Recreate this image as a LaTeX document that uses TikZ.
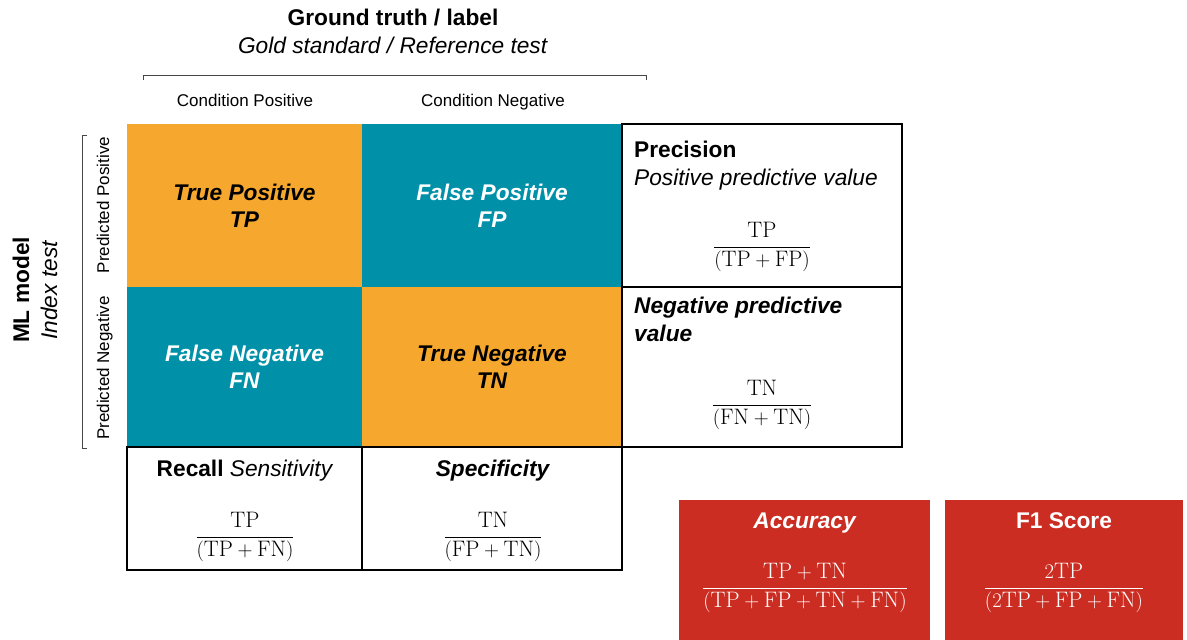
\documentclass[tikz,border=0pt]{standalone}
\usepackage{fontspec}
\setsansfont{Liberation Sans}
\usetikzlibrary{positioning}
\definecolor{cmorange}{RGB}{246,168,46}
\definecolor{cmteal}{RGB}{0,145,169}
\definecolor{cmred}{RGB}{204,45,34}
\definecolor{bracegray}{RGB}{70,70,70}
\tikzset{
  cell/.style = {minimum width=235pt, minimum height=163pt, inner sep=0pt,
    align=center, font=\sffamily\bfseries\itshape\fontsize{22.7}{27}\selectfont},
  metricbox/.style = {draw=black, line width=1.8pt, inner sep=0pt},
  scorebox/.style = {fill=cmred, inner sep=0pt, minimum height=140pt},
  heading/.style = {inner sep=0pt, align=left,
    font=\sffamily\fontsize{22.7}{28}\selectfont},
  formula/.style = {inner sep=0pt, font=\fontsize{22.4}{26}\selectfont},
  small/.style = {inner sep=0pt, anchor=base, font=\sffamily\fontsize{17}{20}\selectfont},
  brace/.style = {draw=bracegray, line width=0.8pt},
}

\begin{document}
\begin{tikzpicture}[x=1pt,y=-1pt]
\useasboundingbox (0,0) rectangle (1187,640);
% axis titles
\node [heading, align=center] (truth) at (393,31)
  {\textbf{Ground truth / label}\\\textit{Gold standard / Reference test}};
\node [heading, align=center, rotate=90] (model) at (35,290)
  {\textbf{ML model}\\\textit{Index test}};
\draw [brace] (143,80) -- (143,75) -- (646,75) -- (646,80);
\draw [brace] (87,135) -- (82,135) -- (82,448) -- (87,448);
\node [small] (cpos) at (245,106) {Condition Positive};
\node [small] (cneg) at (493,106) {Condition Negative};
\node [small, rotate=90] (ppos) at (109,205) {Predicted Positive};
\node [small, rotate=90] (pneg) at (109,368) {Predicted Negative};
% confusion matrix
\node [cell, fill=cmorange] (tp) at (244.5,205.5) {True Positive\\TP};
\node [cell, fill=cmteal, text=white, minimum width=260pt] (fp) at (492,205.5)
  {False Positive\\FP};
\node [cell, fill=cmteal, text=white, minimum height=161pt] (fn) at (244.5,367)
  {False Negative\\FN};
\node [cell, fill=cmorange, minimum width=260pt, minimum height=161pt] (tn) at (492,367)
  {True Negative\\TN};
% row metrics
\node [metricbox, minimum width=280pt, minimum height=163pt] (prec) at (762,205.5) {};
\node [metricbox, minimum width=280pt, minimum height=160pt] (npv) at (762,367) {};
\node [heading, anchor=north west] (prectxt) at (634,141)
  {\textbf{Precision}\\\textit{Positive predictive value}};
\node [formula] (precfrac) at (762,247)
  {$\displaystyle\frac{\mathrm{TP}}{(\mathrm{TP}+\mathrm{FP})}$};
\node [heading, anchor=north west] (npvtxt) at (634,297)
  {\textbf{\itshape Negative predictive}\\\textbf{\itshape value}};
\node [formula] (npvfrac) at (762,405)
  {$\displaystyle\frac{\mathrm{TN}}{(\mathrm{FN}+\mathrm{TN})}$};
% column metrics
\node [metricbox, minimum width=235pt, minimum height=123pt] (rec) at (244.5,508.5) {};
\node [metricbox, minimum width=260pt, minimum height=123pt] (spec) at (492,508.5) {};
\node [heading, anchor=base] (rectxt) at (245,476) {\textbf{Recall} \textit{Sensitivity}};
\node [formula] (recfrac) at (245,537)
  {$\displaystyle\frac{\mathrm{TP}}{(\mathrm{TP}+\mathrm{FN})}$};
\node [heading, anchor=base] (spectxt) at (493,476) {\textbf{\itshape Specificity}};
\node [formula] (specfrac) at (493,537)
  {$\displaystyle\frac{\mathrm{TN}}{(\mathrm{FP}+\mathrm{TN})}$};
% overall scores
\node [scorebox, minimum width=251pt] (acc) at (804.5,570) {};
\node [scorebox, minimum width=238pt] (fone) at (1064,570) {};
\node [heading, anchor=base, text=white] (acctxt) at (805,528) {\textbf{\itshape Accuracy}};
\node [formula, text=white] (accfrac) at (805,588)
  {$\displaystyle\frac{\mathrm{TP}+\mathrm{TN}}{(\mathrm{TP}+\mathrm{FP}+\mathrm{TN}+\mathrm{FN})}$};
\node [heading, anchor=base, text=white] (fonetxt) at (1064,528) {\textbf{F1 Score}};
\node [formula, text=white] (fonefrac) at (1064,588)
  {$\displaystyle\frac{2\mathrm{TP}}{(2\mathrm{TP}+\mathrm{FP}+\mathrm{FN})}$};
\end{tikzpicture}
\end{document}
